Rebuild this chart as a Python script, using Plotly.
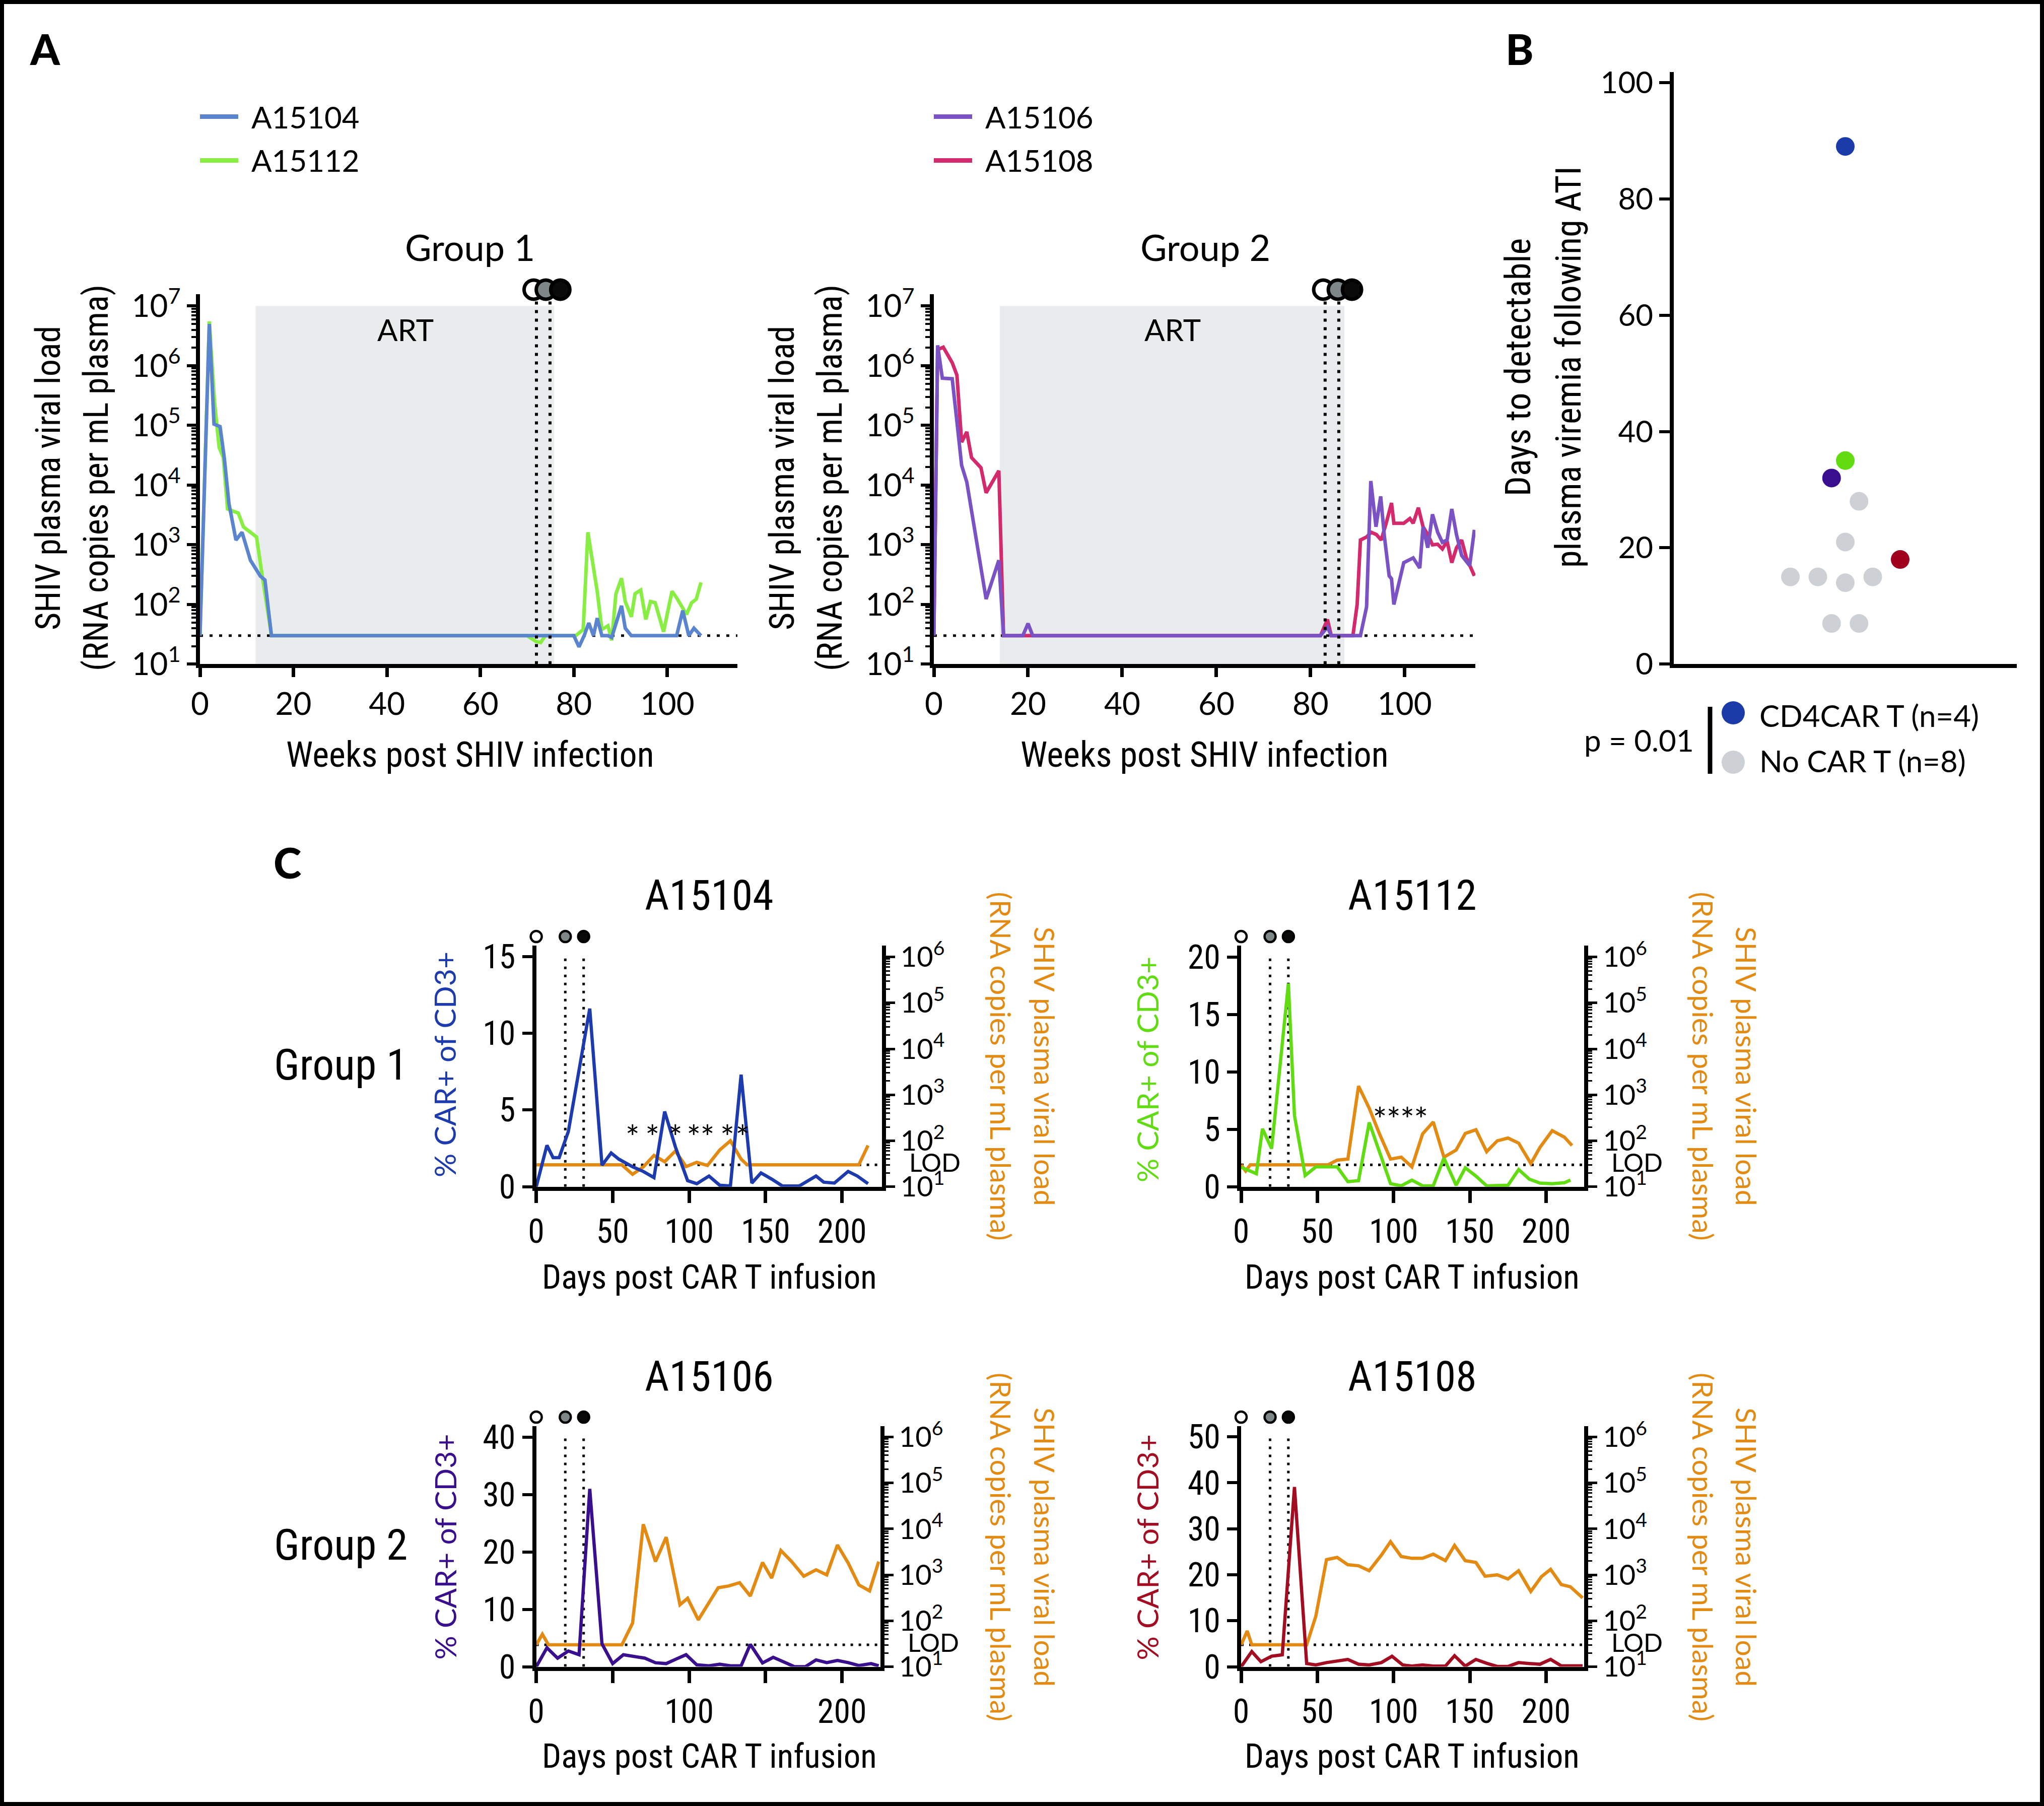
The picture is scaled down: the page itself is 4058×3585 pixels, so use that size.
import math
import plotly.graph_objects as go

W, H = 4058, 3585
def px(x): return x / W
def py(y): return 1 - y / H

LATO = "Lato, 'Open Sans', sans-serif"
COND = "'Liberation Sans Narrow', 'Roboto Condensed', 'DejaVu Sans Condensed', 'Arial Narrow', sans-serif"

LOD = 30

# ---------------- Panel A data (weeks post SHIV infection, RNA copies/mL) ----------------
weeks_a104 = [0, 1, 2, 3, 4.3, 5.2, 6.2, 7.7, 9, 10.8, 12.9, 13.9, 15.3, 80, 81.1, 82.2, 83.2, 84.2, 85, 86,
              87.3, 88.1, 89.7, 90.2, 91, 92.3, 102, 103.3, 104.6, 105.7, 107.2]
vl_a104 = [30, 19500, 5000000, 105000, 95500, 28800, 4900, 1200, 1620, 550, 300, 257, 30, 30, 19.5, 30, 49, 30, 59, 30,
           30, 28, 68, 95, 40, 30, 30, 79, 30, 40, 30]

weeks_a112 = [0, 1, 2, 3.1, 4.1, 5, 5.9, 7.2, 8.2, 9.3, 12.1, 13.4, 15.3, 70, 71.9, 72.9, 73.9, 80.4, 82, 83,
              85, 86, 87.3, 88.1, 89, 90.2, 91, 92.3, 93.1, 94.3, 95.4, 96.4, 97.4, 99.2, 101, 102, 104.1, 105.2, 106.2, 107.2]
vl_a112 = [30, 15800, 5500000, 251000, 42700, 28800, 3980, 3630, 3390, 2000, 1350, 275, 30, 30, 24, 23, 30, 30, 38, 1620,
           166, 38, 44, 25, 151, 275, 112, 62, 151, 174, 56, 112, 107, 35, 166, 129, 68, 107, 123, 234]

weeks_a106 = [0, 0.8, 1.8, 3.9, 4.9, 5.9, 7, 8.7, 11.1, 13.8, 14.8, 18.9, 20, 21, 82.1, 83.6, 84.4, 90.6, 91.9, 92.8,
              93.9, 94.9, 95.7, 96.7, 97.2, 97.7, 99.8, 101.8, 103.2, 103.9, 104.9, 105.9, 107, 108, 109, 110, 111, 112.1, 113.8, 114.8]
vl_a106 = [30, 2190000, 617000, 603000, 115000, 21400, 11200, 1620, 123, 550, 30, 30, 48, 30, 30, 42, 30, 30, 91, 11700,
           2000, 6460, 1350, 302, 269, 100, 501, 603, 407, 2000, 891, 3240, 1620, 1100, 1200, 3980, 1480, 661, 447, 1780]

weeks_a108 = [0, 0.8, 2, 3.9, 4.9, 5.9, 7, 8, 10, 11.1, 13.8, 14.8, 82.1, 83.6, 84.4, 89, 89.9, 90.6, 91.9, 92.9,
              94, 95, 96, 97.2, 97.7, 98.8, 99.8, 101.1, 101.8, 102.9, 103.9, 104.9, 105.9, 107, 108, 109, 110, 111, 112.1, 113.1, 114.8]
vl_a108 = [30, 1860000, 2040000, 1120000, 692000, 52500, 77600, 28800, 19500, 7410, 17400, 30, 30, 56, 30, 30, 100, 1200, 1350, 1620,
           1480, 1200, 2190, 5010, 2290, 2290, 2290, 2750, 2290, 4170, 2000, 1480, 1000, 1020, 851, 1150, 501, 891, 1200, 603, 302]

art_g1 = [11.9, 75.8]
art_g2 = [14.0, 87.2]
infusion_marks_g1 = [71.4, 74.0, 77.1]
infusion_lines_g1 = [72.0, 74.9]
infusion_marks_g2 = [82.7, 85.8, 88.8]
infusion_lines_g2 = [83.1, 86.0]

# ---------------- Panel B data ----------------
car_days = [89, 35, 32, 18]
car_swarm = [0, 0, -1, 4]
car_colors = ['#1b3ba8', '#62dc10', '#3a0f8f', '#a1001c']
nocar_days = [28, 21, 15, 15, 14, 15, 7, 7]
nocar_swarm = [1, 0, -4, -2, 0, 2, -1, 1]

# ---------------- Panel C data (days post CAR T infusion) ----------------
c104_days = [0, 7, 11, 15, 21, 35, 43, 49, 54, 63, 70, 77, 84, 91, 99, 105, 113, 120, 127, 134, 141, 147, 154, 161,
             172, 183, 188, 195, 204, 210, 217]
c104_pct = [0, 2.7, 1.9, 1.9, 3.6, 11.6, 1.4, 2.2, 1.8, 1.3, 1.0, 0.6, 4.9, 2.6, 0.4, 0.2, 0.7, 0.1, 0.05, 7.3, 0.24,
            0.9, 0.5, 0.05, 0.05, 0.7, 0.3, 0.24, 1.0, 0.7, 0.2]
v104_days = [0, 56, 63, 70, 77, 84, 91, 98, 105, 112, 120, 127, 134, 138, 211, 217]
v104_vl = [30, 30, 18.6, 27, 48, 35, 60, 27.5, 34, 29, 63, 100, 40, 30, 30, 79]
stars104_days = [63, 76, 91, 103, 112, 125, 135]

c112_days = [0, 8, 10, 14, 20, 31, 35, 42, 49, 57, 63, 70, 77, 84, 91, 98, 105, 112, 119, 126, 133, 141, 147, 154,
             161, 175, 182, 189, 196, 204, 212, 216]
c112_pct = [1.7, 1.25, 1.14, 5.05, 3.32, 17.7, 6.2, 0.98, 1.73, 1.73, 1.73, 0.45, 0.53, 5.6, 2.9, 0.27, 0.08, 0.58,
            0.08, 0.08, 2.5, 0.13, 1.65, 0.93, 0.08, 0.13, 1.5, 0.66, 0.32, 0.27, 0.35, 0.58]
v112_days = [0, 3, 6, 57, 63, 70, 77, 84, 91, 98, 105, 112, 119, 126, 133, 141, 147, 154, 161, 168, 175, 182, 190,
             196, 204, 212, 217]
v112_vl = [30, 22, 30, 30, 38, 40, 1550, 513, 135, 40, 44, 27, 141, 257, 44, 63, 145, 174, 58, 100, 115, 89, 32, 72,
           166, 120, 79]
stars112_days = [91, 100, 109, 118]

c106_days = [0, 7, 14, 21, 28, 35, 43, 50, 57, 64, 71, 78, 85, 92, 98, 105, 113, 120, 127, 134, 140, 148, 155, 163,
             169, 176, 183, 190, 197, 204, 211, 219, 224]
c106_pct = [0, 3.3, 1.5, 2.75, 2.1, 31, 4.0, 0.55, 2.1, 1.8, 1.5, 0.7, 0.55, 1.4, 2.1, 0.33, 0.17, 0.44, 0.17, 0.17,
            3.9, 0.66, 1.65, 0.72, 0, 0, 1.2, 0.72, 1.1, 0.72, 0.22, 0.55, 0.17]
v106_days = [0, 4, 8, 56, 63, 70, 78, 85, 94, 99, 106, 119, 126, 133, 140, 148, 154, 160, 167, 175, 183, 190, 197,
             204, 211, 218, 224]
v106_vl = [30, 51, 30, 30, 89, 12600, 1950, 6610, 224, 309, 105, 525, 575, 676, 347, 1860, 851, 3390, 1950, 933,
           1290, 1000, 4470, 1820, 603, 447, 1950]

c108_days = [0, 7, 13, 20, 27, 35, 43, 49, 56, 63, 70, 77, 84, 92, 99, 106, 112, 119, 126, 134, 140, 147, 154, 161,
             168, 175, 182, 189, 196, 203, 210, 224]
c108_pct = [0, 3.3, 1.1, 2.3, 2.6, 39.1, 0.7, 0.4, 0.9, 1.2, 1.6, 0.55, 0.4, 0.9, 2.3, 0.4, 0.14, 0.4, 0.14, 0.14,
            2.4, 0.14, 1.6, 0.76, 0.07, 0.07, 0.9, 0.7, 0.55, 1.6, 0.2, 0.2]
v108_days = [0, 4, 7, 43, 49, 56, 63, 70, 77, 84, 92, 98, 105, 112, 119, 126, 134, 140, 147, 154, 160, 168, 175,
             182, 190, 197, 203, 210, 216, 224]
v108_vl = [30, 60, 30, 30, 126, 2140, 2400, 1660, 1580, 1230, 2690, 5250, 2510, 2290, 2290, 2820, 2040, 4370, 2040,
           1860, 933, 1000, 813, 1230, 437, 912, 1320, 617, 550, 316]

infusion_days = [0, 19, 31]

A_COL = {'A15104': '#5b84cf', 'A15112': '#88ee44', 'A15106': '#7b52c4', 'A15108': '#d22a6c'}
C_COL = {'A15104': '#1d3bad', 'A15112': '#62dc12', 'A15106': '#3a0f8e', 'A15108': '#a30d22'}
ORANGE = '#e38a12'
ART_FILL = '#e9ecec'
CIRCLE_FILLS = ['white', '#7d8787', '#0a0a0a']

fig = go.Figure()

def line(x, y, color, xa, ya, width=6.5):
    fig.add_trace(go.Scatter(x=x, y=y, mode='lines', line=dict(color=color, width=width),
                             xaxis=xa, yaxis=ya, hoverinfo='skip', showlegend=False))

# Panel A traces
line(weeks_a112, vl_a112, A_COL['A15112'], 'x', 'y', 7)
line(weeks_a104, vl_a104, A_COL['A15104'], 'x', 'y', 7)
line(weeks_a108, vl_a108, A_COL['A15108'], 'x2', 'y2', 7)
line(weeks_a106, vl_a106, A_COL['A15106'], 'x2', 'y2', 7)

# Panel B traces
fig.add_trace(go.Scatter(x=nocar_swarm, y=nocar_days, mode='markers', marker=dict(size=37, color='#cdd1d6'),
                         xaxis='x3', yaxis='y3', hoverinfo='skip', showlegend=False))
fig.add_trace(go.Scatter(x=car_swarm, y=car_days, mode='markers', marker=dict(size=37, color=car_colors),
                         xaxis='x3', yaxis='y3', hoverinfo='skip', showlegend=False))

# Panel C traces
c_panels = [
    ('A15104', c104_days, c104_pct, v104_days, v104_vl, stars104_days, 4, 15.7, 15, 5),
    ('A15112', c112_days, c112_pct, v112_days, v112_vl, stars112_days, 5, 21.0, 20, 5),
    ('A15106', c106_days, c106_pct, v106_days, v106_vl, [], 6, 41.9, 40, 10),
    ('A15108', c108_days, c108_pct, v108_days, v108_vl, [], 7, 52.3, 50, 10),
]
star_levels = {'A15104': 2.97, 'A15112': 5.5}
for name, cd, cp, vd, vv, sd, k, ytop, ymaj, ystep in c_panels:
    xa, yv, yc = f'x{k}', f'y{k}', f'y{k+4}'
    line(vd, vv, ORANGE, xa, yv)
    line(cd, cp, C_COL[name], xa, yc)
    if sd:
        fig.add_trace(go.Scatter(x=sd, y=[star_levels[name]] * len(sd), mode='text', text=['*'] * len(sd),
                                 textfont=dict(family=LATO, size=66, color='black'), cliponaxis=False,
                                 xaxis=xa, yaxis=yc, hoverinfo='skip', showlegend=False))

# ---------------- Axes ----------------
def log_minor(lo, hi):
    return [m * 10 ** e for e in range(lo, hi) for m in range(2, 10)]

def sup_labels(lo, hi):
    return [f"10<sup>{e}</sup>" for e in range(lo, hi + 1)]

base = dict(showgrid=False, zeroline=False, showline=True, linecolor='black', linewidth=8,
            ticks='outside', tickcolor='black', automargin=False)

ax = {}
A_ydom = [py(1318.4), py(583.7)]
for i, (xd, art) in enumerate([((397, 1464), art_g1), ((1854, 2929), art_g2)]):
    sx = '' if i == 0 else '2'
    ax['xaxis' + sx] = dict(base, domain=[px(xd[0]), px(xd[1])], range=[0, 115], anchor='y' + sx,
                            tickvals=list(range(0, 101, 20)), ticklen=18, tickwidth=7,
                            tickfont=dict(family=LATO, size=62, color='black'))
    ax['yaxis' + sx] = dict(base, domain=A_ydom, type='log', range=[1, 7.2], anchor='x' + sx,
                            tickvals=[10 ** e for e in range(1, 8)], ticktext=sup_labels(1, 7),
                            ticklen=18, tickwidth=6, tickfont=dict(family=LATO, size=62, color='black'),
                            minor=dict(tickvals=log_minor(1, 7), ticks='outside', ticklen=9, tickwidth=4,
                                       tickcolor='black'))

ax['xaxis3'] = dict(base, domain=[px(3323), px(4004)], range=[-12.5, 12.5], anchor='y3',
                    ticks='', showticklabels=False)
ax['yaxis3'] = dict(base, domain=[py(1318.4), py(142.9)], range=[0, 101.8], anchor='x3',
                    tickvals=list(range(0, 101, 20)), ticklen=21, tickwidth=6,
                    tickfont=dict(family=LATO, size=60, color='black'))

c_geom = {
    4: dict(x=(1064.6, 1750.6), y=(2355.8, 1877.2), xr=226, lr=6.245, xt=[0, 50, 100, 150, 200], xl=None),
    5: dict(x=(2464.0, 3145.2), y=(2355.8, 1877.2), xr=225, lr=6.245, xt=[0, 50, 100, 150, 200], xl=None),
    6: dict(x=(1064.6, 1747.6), y=(3308.6, 2831.2), xr=225, lr=6.234, xt=[0, 50, 100, 150, 200],
            xl=['0', '', '100', '', '200']),
    7: dict(x=(2464.0, 3145.0), y=(3308.6, 2831.2), xr=225, lr=6.234, xt=[0, 50, 100, 150, 200], xl=None),
}
for name, cd, cp, vd, vv, sd, k, ytop, ymaj, ystep in c_panels:
    g = c_geom[k]
    xax = dict(base, domain=[px(g['x'][0]), px(g['x'][1])], range=[0, g['xr']], anchor=f'y{k}',
               tickvals=g['xt'], ticklen=24, tickwidth=7,
               tickfont=dict(family=COND, size=66, color='black'))
    if g['xl']:
        xax['ticktext'] = g['xl']
    ax[f'xaxis{k}'] = xax
    ax[f'yaxis{k}'] = dict(base, domain=[py(g['y'][0]), py(g['y'][1])], type='log', range=[1, g['lr']],
                           anchor=f'x{k}', side='right', tickvals=[10 ** e for e in range(1, 7)],
                           ticktext=sup_labels(1, 6), ticklen=18, tickwidth=5,
                           tickfont=dict(family=LATO, size=56, color='black'),
                           minor=dict(tickvals=log_minor(1, 6), ticks='outside', ticklen=8, tickwidth=3,
                                      tickcolor='black'))
    ax[f'yaxis{k+4}'] = dict(base, overlaying=f'y{k}', anchor=f'x{k}', side='left', range=[0, ytop],
                             tickvals=list(range(0, ymaj + 1, ystep)), ticklen=20, tickwidth=6,
                             tickfont=dict(family=COND, size=66, color='black'))

fig.update_layout(**ax)

# ---------------- Shapes ----------------
shapes = []
def circles(xref, yref_dom, xs, ypos, r, lw):
    for xv, fill in zip(xs, CIRCLE_FILLS):
        shapes.append(dict(type='circle', xref=xref, yref=yref_dom, xsizemode='pixel', ysizemode='pixel',
                           xanchor=xv, yanchor=ypos, x0=-r, x1=r, y0=-r, y1=r,
                           fillcolor=fill, line=dict(color='black', width=lw), layer='above'))

for xr, yr, art, lines_, marks in [('x', 'y', art_g1, infusion_lines_g1, infusion_marks_g1),
                                   ('x2', 'y2', art_g2, infusion_lines_g2, infusion_marks_g2)]:
    shapes.append(dict(type='rect', xref=xr, yref=yr, x0=art[0], x1=art[1], y0=10, y1=1e7,
                       fillcolor=ART_FILL, line=dict(width=0), layer='below'))
    shapes.append(dict(type='line', xref=xr, yref=yr, x0=0, x1=115, y0=LOD, y1=LOD,
                       line=dict(color='black', width=5, dash='6px,13px'), layer='below'))
    for xv in lines_:
        shapes.append(dict(type='line', xref=xr, yref=yr, x0=xv, x1=xv, y0=10, y1=10 ** 7.08,
                           line=dict(color='black', width=6, dash='6px,11px'), layer='above'))
    circles(xr, yr + ' domain', marks, 1.012, 19, 7)

for name, cd, cp, vd, vv, sd, k, ytop, ymaj, ystep in c_panels:
    g = c_geom[k]
    shapes.append(dict(type='line', xref=f'x{k}', yref=f'y{k}', x0=0, x1=g['xr'], y0=LOD, y1=LOD,
                       line=dict(color='black', width=5, dash='5px,11px'), layer='below'))
    for xv in infusion_days[1:]:
        shapes.append(dict(type='line', xref=f'x{k}', yref=f'y{k+4}', x0=xv, x1=xv, y0=0, y1=ymaj,
                           line=dict(color='black', width=5, dash='5px,11px'), layer='below'))
    # circles placed in axis-domain units (day / axis span) so the day-0 circle is not clipped
    circles(f'x{k} domain', f'y{k} domain', [d / g['xr'] for d in infusion_days], 1.038, 11, 4.5)

# legend samples panel A
for (x0, x1), (y1, y2), (n1, n2) in [((397, 473), (231.6, 318.4), ('A15104', 'A15112')),
                                      ((1854, 1930), (231.6, 318.4), ('A15106', 'A15108'))]:
    shapes.append(dict(type='line', xref='paper', yref='paper', x0=px(x0), x1=px(x1), y0=py(y1), y1=py(y1),
                       line=dict(color=A_COL[n1], width=9)))
    shapes.append(dict(type='line', xref='paper', yref='paper', x0=px(x0), x1=px(x1), y0=py(y2), y1=py(y2),
                       line=dict(color=A_COL[n2], width=9)))

# panel B legend
shapes.append(dict(type='line', xref='paper', yref='paper', x0=px(3395), x1=px(3395), y0=py(1403), y1=py(1536),
                   line=dict(color='black', width=9)))
for cy, col in [(1415, '#1b3ba8'), (1513, '#cdd1d6')]:
    shapes.append(dict(type='circle', xref='paper', yref='paper', x0=px(3441 - 23), x1=px(3441 + 23),
                       y0=py(cy + 23), y1=py(cy - 23), fillcolor=col, line=dict(width=0)))

# outer frame
shapes.append(dict(type='rect', xref='paper', yref='paper', x0=0, x1=1, y0=0, y1=1,
                   line=dict(color='black', width=16), fillcolor='rgba(0,0,0,0)'))

# ---------------- Annotations ----------------
ann = []
def text(x, y, s, family=LATO, size=60, color='black', angle=0, xanchor='center', yanchor='middle', weight=None):
    f = dict(family=family, size=size, color=color)
    if weight:
        f['weight'] = weight
    ann.append(dict(x=px(x), y=py(y), xref='paper', yref='paper', text=s, showarrow=False, font=f,
                    textangle=angle, xanchor=xanchor, yanchor=yanchor))

BOLD = "Lato, 'Liberation Sans', sans-serif"
text(89, 97, 'A', family=BOLD, size=84, weight=900)
text(3017, 97, 'B', family=BOLD, size=84, weight=900)
text(570, 1711, 'C', family=BOLD, size=84, weight=900)

# panel A text
text(497, 231.6, 'A15104', xanchor='left')
text(497, 318.4, 'A15112', xanchor='left')
text(1954, 231.6, 'A15106', xanchor='left')
text(1954, 318.4, 'A15108', xanchor='left')
text(933, 490, 'Group 1', size=72)
text(2392.5, 490, 'Group 2', size=72)
text(933, 1498, 'Weeks post SHIV infection', family=COND, size=70)
text(2391.6, 1498, 'Weeks post SHIV infection', family=COND, size=70)
for cx in (96, 1553):
    text(cx, 949, 'SHIV plasma viral load', family=COND, size=68, angle=-90)
    text(cx + 95, 949, '(RNA copies per mL plasma)', family=COND, size=68, angle=-90)
ann.append(dict(x=44, y=6.61, xref='x', yref='y', text='ART', showarrow=False,
                font=dict(family=LATO, size=60, color='black')))
ann.append(dict(x=50.7, y=6.61, xref='x2', yref='y2', text='ART', showarrow=False,
                font=dict(family=LATO, size=60, color='black')))

# panel B text
text(3014, 729, 'Days to detectable', family=COND, size=70, angle=-90)
text(3114, 729, 'plasma viremia following ATI', family=COND, size=70, angle=-90)
text(3365, 1469, 'p = 0.01', xanchor='right')
text(3491, 1420, 'CD4CAR T (n=4)', xanchor='left')
text(3491, 1510, 'No CAR T (n=8)', xanchor='left')

# panel C text
c_text = {
    4: dict(title=(1408, 1777), xt=(1408, 2534.6), yl=(882.5, 2113.5), yr=(2075, 1988, 2116.5), lod=1803),
    5: dict(title=(2804, 1777), xt=(2803.6, 2534.6), yl=(2277.4, 2122.6), yr=(3468, 3382, 2116.5), lod=3197),
    6: dict(title=(1408, 2732), xt=(1408, 3485.7), yl=(882.5, 3071), yr=(2075, 1988, 3071), lod=1800),
    7: dict(title=(2804, 2732), xt=(2803.6, 3485.7), yl=(2277.4, 3071), yr=(3468, 3382, 3071), lod=3197),
}
for name, cd, cp, vd, vv, sd, k, ytop, ymaj, ystep in c_panels:
    t = c_text[k]
    text(*t['title'], name, family=COND, size=84)
    text(*t['xt'], 'Days post CAR T infusion', family=COND, size=67)
    text(*t['yl'], '% CAR+ of CD3+', size=59, color=C_COL[name], angle=-90)
    text(t['yr'][0], t['yr'][2], 'SHIV plasma viral load', size=57, color=ORANGE, angle=90)
    text(t['yr'][1], t['yr'][2], '(RNA copies per mL plasma)', size=57, color=ORANGE, angle=90)
    ann.append(dict(x=px(t['lod']), y=math.log10(LOD) + 0.06, xref='paper', yref=f'y{k}', text='LOD',
                    showarrow=False, xanchor='left', font=dict(family=LATO, size=50, color='black')))
text(676.5, 2113.5, 'Group 1', family=COND, size=86)
text(676.5, 3066, 'Group 2', family=COND, size=86)

fig.update_layout(width=W, height=H, margin=dict(l=0, r=0, t=0, b=0, pad=0, autoexpand=False), autosize=False,
                  paper_bgcolor='white', plot_bgcolor='white', showlegend=False,
                  shapes=shapes, annotations=ann, font=dict(family=LATO, color='black'))

fig.write_html("out.html", config={'displayModeBar': False},
               post_script="document.body.style.margin='0';document.body.style.overflow='hidden';")
